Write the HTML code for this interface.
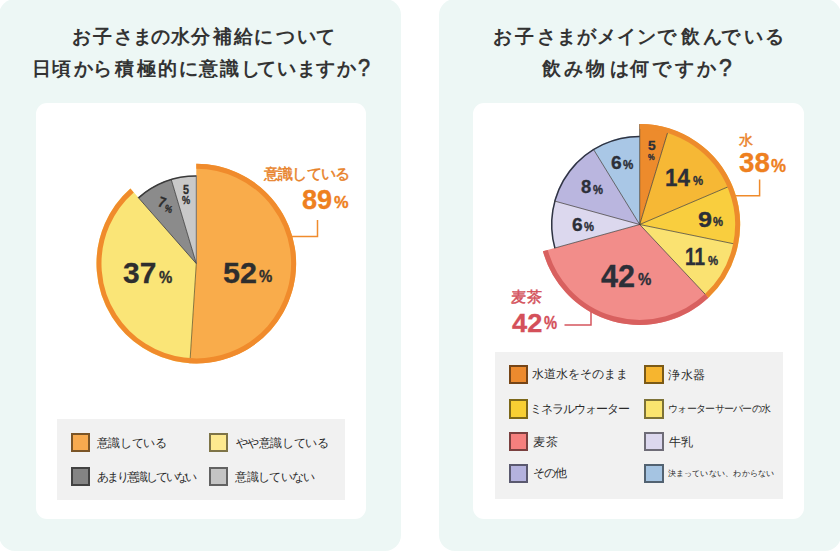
<!DOCTYPE html>
<html lang="ja"><head><meta charset="utf-8"><style>
html,body{margin:0;padding:0;background:#fff;}
body{width:840px;height:552px;position:relative;overflow:hidden;font-family:"Liberation Sans",sans-serif;}
.panel{position:absolute;background:#edf7f5;border-radius:16px;}
.card{position:absolute;background:#fff;border-radius:11px;}
.leg{position:absolute;background:#f1f1f1;}
.t{position:absolute;white-space:nowrap;line-height:1;}
.sw{position:absolute;width:15.3px;height:15.3px;border:2px solid;}
svg{position:absolute;left:0;top:0;}
</style></head><body>
<div class="panel" style="left:-1px;top:-1px;width:402px;height:552px"></div>
<div class="panel" style="left:439px;top:-1px;width:402px;height:552px"></div>
<div class="card" style="left:36px;top:102.7px;width:330px;height:416.8px"></div>
<div class="card" style="left:473.4px;top:102.7px;width:330.6px;height:416.8px"></div>
<div class="leg" style="left:57.1px;top:418.7px;width:287.5px;height:81.3px"></div>
<div class="leg" style="left:494.9px;top:351.8px;width:288px;height:147.7px"></div>
<svg width="840" height="552" viewBox="0 0 840 552">
<path d="M196.30,263.60 L196.30,163.80 A99.80,99.80 0 1 1 189.86,363.19 Z" fill="#f9ac4b"/>
<path d="M196.30,263.60 L189.86,363.19 A99.80,99.80 0 0 1 130.43,188.62 Z" fill="#fae577"/>
<path d="M196.30,263.60 L138.09,197.34 A88.20,88.20 0 0 1 171.10,179.08 Z" fill="#8b8b8b"/>
<path d="M196.30,263.60 L171.10,179.08 A88.20,88.20 0 0 1 196.30,175.40 Z" fill="#c9c9c9"/>
<path d="M138.55,197.86 A87.50,87.50 0 0 1 196.30,176.10" fill="none" stroke="#3a3a3a" stroke-width="1.5"/>
<path d="M196.30,263.60 L138.09,197.34" stroke="#3a3a3a" stroke-width="0.8" fill="none"/>
<path d="M196.30,263.60 L171.10,179.08" stroke="#3a3a3a" stroke-width="0.8" fill="none"/>
<path d="M196.30,263.60 L189.86,363.19" stroke="#6b5a2a" stroke-width="0.8" fill="none"/>
<path d="M196.30,263.60 L196.30,175.40" stroke="#555" stroke-width="0.8" fill="none"/>
<path d="M196.30,166.30 A97.30,97.30 0 1 1 132.08,190.50" fill="none" stroke="#f08b2c" stroke-width="5.0"/>
<path d="M639.70,224.50 L639.70,124.10 A100.40,100.40 0 0 1 668.89,128.44 Z" fill="#ed8b2c"/>
<path d="M639.70,224.50 L668.89,128.44 A100.40,100.40 0 0 1 732.05,185.11 Z" fill="#f6b835"/>
<path d="M639.70,224.50 L732.05,185.11 A100.40,100.40 0 0 1 738.05,244.69 Z" fill="#f9ce3e"/>
<path d="M639.70,224.50 L738.05,244.69 A100.40,100.40 0 0 1 708.43,297.69 Z" fill="#fae271"/>
<path d="M639.70,224.50 L708.43,297.69 A100.40,100.40 0 0 1 542.95,251.33 Z" fill="#f28d8a"/>
<path d="M639.70,224.50 L554.23,248.20 A88.70,88.70 0 0 1 554.18,200.95 Z" fill="#dcd8ee"/>
<path d="M639.70,224.50 L554.18,200.95 A88.70,88.70 0 0 1 593.22,148.95 Z" fill="#bab6df"/>
<path d="M639.70,224.50 L593.22,148.95 A88.70,88.70 0 0 1 639.70,135.80 Z" fill="#a9c7e6"/>
<path d="M554.90,248.02 A88.00,88.00 0 0 1 639.70,136.50" fill="none" stroke="#2f3442" stroke-width="1.5"/>
<path d="M639.70,224.50 L668.01,131.31" stroke="#3a3530" stroke-width="0.7" fill="none"/>
<path d="M639.70,224.50 L729.29,186.29" stroke="#3a3530" stroke-width="0.7" fill="none"/>
<path d="M639.70,224.50 L735.11,244.08" stroke="#3a3530" stroke-width="0.7" fill="none"/>
<path d="M639.70,224.50 L706.37,295.50" stroke="#3a3530" stroke-width="0.7" fill="none"/>
<path d="M639.70,224.50 L554.23,248.20" stroke="#3a3530" stroke-width="0.7" fill="none"/>
<path d="M639.70,224.50 L554.18,200.95" stroke="#3a3530" stroke-width="0.7" fill="none"/>
<path d="M639.70,224.50 L593.22,148.95" stroke="#3a3530" stroke-width="0.7" fill="none"/>
<path d="M639.70,224.50 L639.70,124.10" stroke="#3a3530" stroke-width="0.7" fill="none"/>
<path d="M639.70,126.60 A97.90,97.90 0 0 1 706.72,295.87" fill="none" stroke="#ed8b2c" stroke-width="5.0"/>
<path d="M706.72,295.87 A97.90,97.90 0 0 1 545.36,250.66" fill="none" stroke="#d8605f" stroke-width="5.0"/>
<path d="M291,236.5 H317.5 V220" fill="none" stroke="#f08b2c" stroke-width="1.5"/>
<path d="M735,195.7 H759.6 V179.4" fill="none" stroke="#ef8a2a" stroke-width="1.5"/>
<path d="M564.5,325 H591 V312" fill="none" stroke="#d5555d" stroke-width="1.5"/>
</svg>
<div class="t" style="left:71.70px;top:27.30px;font-size:19px;color:#333;font-weight:bold;">お</div>
<div class="t" style="left:93.00px;top:27.30px;font-size:19px;color:#333;font-weight:bold;">子</div>
<div class="t" style="left:113.90px;top:27.30px;font-size:19px;color:#333;font-weight:bold;">さ</div>
<div class="t" style="left:133.30px;top:27.30px;font-size:19px;color:#333;font-weight:bold;">ま</div>
<div class="t" style="left:150.70px;top:27.30px;font-size:19px;color:#333;font-weight:bold;">の</div>
<div class="t" style="left:171.20px;top:27.30px;font-size:19px;color:#333;font-weight:bold;">水</div>
<div class="t" style="left:191.40px;top:27.30px;font-size:19px;color:#333;font-weight:bold;">分</div>
<div class="t" style="left:212.90px;top:27.30px;font-size:19px;color:#333;font-weight:bold;">補</div>
<div class="t" style="left:234.10px;top:27.30px;font-size:19px;color:#333;font-weight:bold;">給</div>
<div class="t" style="left:254.30px;top:27.30px;font-size:19px;color:#333;font-weight:bold;">に</div>
<div class="t" style="left:275.50px;top:27.30px;font-size:19px;color:#333;font-weight:bold;">つ</div>
<div class="t" style="left:296.50px;top:27.30px;font-size:19px;color:#333;font-weight:bold;">い</div>
<div class="t" style="left:315.50px;top:27.30px;font-size:19px;color:#333;font-weight:bold;">て</div>
<div class="t" style="left:31.90px;top:58.80px;font-size:19px;color:#333;font-weight:bold;">日</div>
<div class="t" style="left:52.00px;top:58.80px;font-size:19px;color:#333;font-weight:bold;">頃</div>
<div class="t" style="left:74.40px;top:58.80px;font-size:19px;color:#333;font-weight:bold;">か</div>
<div class="t" style="left:93.40px;top:58.80px;font-size:19px;color:#333;font-weight:bold;">ら</div>
<div class="t" style="left:115.00px;top:58.80px;font-size:19px;color:#333;font-weight:bold;">積</div>
<div class="t" style="left:136.50px;top:58.80px;font-size:19px;color:#333;font-weight:bold;">極</div>
<div class="t" style="left:157.70px;top:58.80px;font-size:19px;color:#333;font-weight:bold;">的</div>
<div class="t" style="left:179.30px;top:58.80px;font-size:19px;color:#333;font-weight:bold;">に</div>
<div class="t" style="left:198.60px;top:58.80px;font-size:19px;color:#333;font-weight:bold;">意</div>
<div class="t" style="left:220.00px;top:58.80px;font-size:19px;color:#333;font-weight:bold;">識</div>
<div class="t" style="left:240.80px;top:58.80px;font-size:19px;color:#333;font-weight:bold;">し</div>
<div class="t" style="left:257.20px;top:58.80px;font-size:19px;color:#333;font-weight:bold;">て</div>
<div class="t" style="left:276.70px;top:58.80px;font-size:19px;color:#333;font-weight:bold;">い</div>
<div class="t" style="left:296.70px;top:58.80px;font-size:19px;color:#333;font-weight:bold;">ま</div>
<div class="t" style="left:316.20px;top:58.80px;font-size:19px;color:#333;font-weight:bold;">す</div>
<div class="t" style="left:336.70px;top:58.80px;font-size:19px;color:#333;font-weight:bold;">か</div>
<div class="t" style="left:492.80px;top:26.80px;font-size:19px;color:#333;font-weight:bold;">お</div>
<div class="t" style="left:515.00px;top:26.80px;font-size:19px;color:#333;font-weight:bold;">子</div>
<div class="t" style="left:536.60px;top:26.80px;font-size:19px;color:#333;font-weight:bold;">さ</div>
<div class="t" style="left:556.70px;top:26.80px;font-size:19px;color:#333;font-weight:bold;">ま</div>
<div class="t" style="left:577.10px;top:26.80px;font-size:19px;color:#333;font-weight:bold;">が</div>
<div class="t" style="left:597.20px;top:26.80px;font-size:19px;color:#333;font-weight:bold;">メ</div>
<div class="t" style="left:617.00px;top:26.80px;font-size:19px;color:#333;font-weight:bold;">イ</div>
<div class="t" style="left:636.80px;top:26.80px;font-size:19px;color:#333;font-weight:bold;">ン</div>
<div class="t" style="left:657.10px;top:26.80px;font-size:19px;color:#333;font-weight:bold;">で</div>
<div class="t" style="left:681.00px;top:26.80px;font-size:19px;color:#333;font-weight:bold;">飲</div>
<div class="t" style="left:703.10px;top:26.80px;font-size:19px;color:#333;font-weight:bold;">ん</div>
<div class="t" style="left:721.40px;top:26.80px;font-size:19px;color:#333;font-weight:bold;">で</div>
<div class="t" style="left:744.10px;top:26.80px;font-size:19px;color:#333;font-weight:bold;">い</div>
<div class="t" style="left:764.80px;top:26.80px;font-size:19px;color:#333;font-weight:bold;">る</div>
<div class="t" style="left:542.00px;top:58.80px;font-size:19px;color:#333;font-weight:bold;">飲</div>
<div class="t" style="left:563.70px;top:58.80px;font-size:19px;color:#333;font-weight:bold;">み</div>
<div class="t" style="left:586.30px;top:58.80px;font-size:19px;color:#333;font-weight:bold;">物</div>
<div class="t" style="left:609.50px;top:58.80px;font-size:19px;color:#333;font-weight:bold;">は</div>
<div class="t" style="left:630.00px;top:58.80px;font-size:19px;color:#333;font-weight:bold;">何</div>
<div class="t" style="left:652.40px;top:58.80px;font-size:19px;color:#333;font-weight:bold;">で</div>
<div class="t" style="left:674.80px;top:58.80px;font-size:19px;color:#333;font-weight:bold;">す</div>
<div class="t" style="left:696.90px;top:58.80px;font-size:19px;color:#333;font-weight:bold;">か</div>
<div class="t" style="left:357.73px;top:56.20px;font-size:24.00px;transform:scaleX(0.903);transform-origin:0 0;color:#333;font-weight:normal;-webkit-text-stroke:0.6px #333;">?</div>
<div class="t" style="left:718.58px;top:56.20px;font-size:24.00px;transform:scaleX(0.955);transform-origin:0 0;color:#333;font-weight:normal;-webkit-text-stroke:0.6px #333;">?</div>
<div class="t" style="left:222.59px;top:257.72px;font-size:29.86px;transform:scaleX(1.021);transform-origin:0 0;color:#2e2e2e;font-weight:bold;-webkit-text-stroke:0.3px #2e2e2e;">52</div>
<div class="t" style="left:259.05px;top:269.13px;font-size:16.71px;transform:scaleX(0.894);transform-origin:0 0;color:#2e2e2e;font-weight:bold;-webkit-text-stroke:0.35px #2e2e2e;">%</div>
<div class="t" style="left:122.50px;top:257.92px;font-size:29.86px;transform:scaleX(1.002);transform-origin:0 0;color:#2e2e2e;font-weight:bold;-webkit-text-stroke:0.3px #2e2e2e;">37</div>
<div class="t" style="left:159.05px;top:269.42px;font-size:16.14px;transform:scaleX(0.925);transform-origin:0 0;color:#2e2e2e;font-weight:bold;-webkit-text-stroke:0.35px #2e2e2e;">%</div>
<div class="t" style="left:157.79px;top:195.25px;font-size:14.71px;transform:rotate(20.0deg) scaleX(0.868);transform-origin:3.51px 7.35px;color:#2e2e2e;font-weight:bold;-webkit-text-stroke:0.3px #2e2e2e;">7</div>
<div class="t" style="left:164.04px;top:203.60px;font-size:10.00px;transform:rotate(20.0deg) scaleX(0.867);transform-origin:3.86px 5.10px;color:#2e2e2e;font-weight:bold;-webkit-text-stroke:0.35px #2e2e2e;">%</div>
<div class="t" style="left:183.28px;top:183.97px;font-size:12.71px;transform:scaleX(0.849);transform-origin:0 0;color:#2e2e2e;font-weight:bold;-webkit-text-stroke:0.3px #2e2e2e;">5</div>
<div class="t" style="left:182.03px;top:195.73px;font-size:10.43px;transform:scaleX(0.878);transform-origin:0 0;color:#2e2e2e;font-weight:bold;-webkit-text-stroke:0.35px #2e2e2e;">%</div>
<div class="t" style="left:264.00px;top:165.90px;font-size:15.00px;letter-spacing:-0.76px;color:#e8832b;font-weight:normal;-webkit-text-stroke:0.5px #e8832b;">意識している</div>
<div class="t" style="left:301.69px;top:186.26px;font-size:27.61px;transform:scaleX(0.982);transform-origin:0 0;color:#ee8020;font-weight:bold;-webkit-text-stroke:0.3px #ee8020;">89</div>
<div class="t" style="left:334.11px;top:195.23px;font-size:16.71px;transform:scaleX(0.980);transform-origin:0 0;color:#ee8020;font-weight:bold;-webkit-text-stroke:0.35px #ee8020;">%</div>
<div class="t" style="left:739.40px;top:132.80px;font-size:14.00px;letter-spacing:0.00px;color:#ea8328;font-weight:normal;-webkit-text-stroke:0.5px #ea8328;">水</div>
<div class="t" style="left:738.95px;top:149.28px;font-size:27.46px;transform:scaleX(1.010);transform-origin:0 0;color:#ee8020;font-weight:bold;-webkit-text-stroke:0.3px #ee8020;">38</div>
<div class="t" style="left:771.49px;top:157.03px;font-size:18.57px;transform:scaleX(0.908);transform-origin:0 0;color:#ee8020;font-weight:bold;-webkit-text-stroke:0.35px #ee8020;">%</div>
<div class="t" style="left:511.20px;top:289.40px;font-size:15.00px;letter-spacing:1.20px;color:#d4535c;font-weight:normal;-webkit-text-stroke:0.5px #d4535c;">麦茶</div>
<div class="t" style="left:511.66px;top:309.58px;font-size:26.14px;transform:scaleX(1.042);transform-origin:0 0;color:#d4505a;font-weight:bold;-webkit-text-stroke:0.3px #d4505a;">42</div>
<div class="t" style="left:544.36px;top:315.14px;font-size:17.86px;transform:scaleX(0.823);transform-origin:0 0;color:#d4505a;font-weight:bold;-webkit-text-stroke:0.35px #d4505a;">%</div>
<div class="t" style="left:648.09px;top:140.47px;font-size:12.71px;transform:scaleX(1.085);transform-origin:0 0;color:#2c2f38;font-weight:bold;-webkit-text-stroke:0.3px #2c2f38;">5</div>
<div class="t" style="left:647.58px;top:153.03px;font-size:8.57px;transform:scaleX(0.871);transform-origin:0 0;color:#2c2f38;font-weight:bold;-webkit-text-stroke:0.35px #2c2f38;">%</div>
<div class="t" style="left:665.06px;top:165.60px;font-size:23.77px;transform:scaleX(0.938);transform-origin:0 0;color:#2c2f38;font-weight:bold;-webkit-text-stroke:0.3px #2c2f38;">14</div>
<div class="t" style="left:693.46px;top:174.13px;font-size:13.57px;transform:scaleX(0.834);transform-origin:0 0;color:#2c2f38;font-weight:bold;-webkit-text-stroke:0.35px #2c2f38;">%</div>
<div class="t" style="left:697.99px;top:208.77px;font-size:21.55px;transform:scaleX(1.170);transform-origin:0 0;color:#2c2f38;font-weight:bold;-webkit-text-stroke:0.3px #2c2f38;">9</div>
<div class="t" style="left:712.86px;top:217.10px;font-size:11.86px;transform:scaleX(0.945);transform-origin:0 0;color:#2c2f38;font-weight:bold;-webkit-text-stroke:0.35px #2c2f38;">%</div>
<div class="t" style="left:684.56px;top:246.41px;font-size:23.04px;transform:scaleX(0.823);transform-origin:0 0;color:#2c2f38;font-weight:bold;-webkit-text-stroke:0.3px #2c2f38;">11</div>
<div class="t" style="left:708.26px;top:255.80px;font-size:11.86px;transform:scaleX(0.955);transform-origin:0 0;color:#2c2f38;font-weight:bold;-webkit-text-stroke:0.35px #2c2f38;">%</div>
<div class="t" style="left:601.39px;top:260.84px;font-size:30.43px;transform:scaleX(1.005);transform-origin:0 0;color:#2c2f38;font-weight:bold;-webkit-text-stroke:0.3px #2c2f38;">42</div>
<div class="t" style="left:637.85px;top:272.05px;font-size:16.57px;transform:scaleX(0.902);transform-origin:0 0;color:#2c2f38;font-weight:bold;-webkit-text-stroke:0.35px #2c2f38;">%</div>
<div class="t" style="left:611.23px;top:155.04px;font-size:17.75px;transform:scaleX(1.080);transform-origin:0 0;color:#2c2f38;font-weight:bold;-webkit-text-stroke:0.3px #2c2f38;">6</div>
<div class="t" style="left:622.85px;top:160.10px;font-size:11.86px;transform:scaleX(0.975);transform-origin:0 0;color:#2c2f38;font-weight:bold;-webkit-text-stroke:0.35px #2c2f38;">%</div>
<div class="t" style="left:580.65px;top:177.97px;font-size:18.87px;transform:scaleX(0.975);transform-origin:0 0;color:#2c2f38;font-weight:bold;-webkit-text-stroke:0.3px #2c2f38;">8</div>
<div class="t" style="left:593.16px;top:183.64px;font-size:12.86px;transform:scaleX(0.871);transform-origin:0 0;color:#2c2f38;font-weight:bold;-webkit-text-stroke:0.35px #2c2f38;">%</div>
<div class="t" style="left:571.63px;top:215.83px;font-size:18.45px;transform:scaleX(1.039);transform-origin:0 0;color:#2c2f38;font-weight:bold;-webkit-text-stroke:0.3px #2c2f38;">6</div>
<div class="t" style="left:584.36px;top:221.26px;font-size:12.14px;transform:scaleX(0.923);transform-origin:0 0;color:#2c2f38;font-weight:bold;-webkit-text-stroke:0.35px #2c2f38;">%</div>
<div class="t" style="left:96.80px;top:437.50px;font-size:11.50px;letter-spacing:-0.36px;color:#2a2a2a;font-weight:normal;">意識している</div>
<div class="t" style="left:235.60px;top:437.50px;font-size:11.50px;letter-spacing:-0.41px;color:#2a2a2a;font-weight:normal;">やや意識している</div>
<div class="t" style="left:97.20px;top:471.50px;font-size:11.50px;letter-spacing:-2.20px;color:#2a2a2a;font-weight:normal;">あまり意識していない</div>
<div class="t" style="left:235.20px;top:471.50px;font-size:11.50px;letter-spacing:-0.65px;color:#2a2a2a;font-weight:normal;">意識していない</div>
<div class="t" style="left:532.40px;top:369.20px;font-size:11.50px;letter-spacing:-0.03px;color:#2a2a2a;font-weight:normal;">水道水をそのまま</div>
<div class="t" style="left:668.00px;top:370.20px;font-size:11.50px;letter-spacing:0.65px;color:#2a2a2a;font-weight:normal;">浄水器</div>
<div class="t" style="left:530.40px;top:403.80px;font-size:11.50px;letter-spacing:-1.05px;color:#2a2a2a;font-weight:normal;">ミネラルウォーター</div>
<div class="t" style="left:668.00px;top:403.80px;font-size:9.50px;letter-spacing:-0.70px;color:#2a2a2a;font-weight:normal;">ウォーターサーバーの水</div>
<div class="t" style="left:532.80px;top:437.00px;font-size:11.50px;letter-spacing:1.50px;color:#2a2a2a;font-weight:normal;">麦茶</div>
<div class="t" style="left:669.00px;top:436.50px;font-size:11.50px;letter-spacing:-0.50px;color:#2a2a2a;font-weight:normal;">牛乳</div>
<div class="t" style="left:532.80px;top:468.20px;font-size:11.50px;letter-spacing:-0.90px;color:#2a2a2a;font-weight:normal;">その他</div>
<div class="t" style="left:667.60px;top:469.20px;font-size:8.30px;letter-spacing:0.22px;color:#2a2a2a;font-weight:normal;">決まっていない、わからない</div>
<div class="sw" style="left:71.2px;top:433px;background:#f7aa4f;border-color:#7b5527"></div>
<div class="sw" style="left:209.2px;top:433px;background:#fde98f;border-color:#7e7447"></div>
<div class="sw" style="left:71.2px;top:467px;background:#848484;border-color:#424242"></div>
<div class="sw" style="left:209.2px;top:467px;background:#c4c4c4;border-color:#626262"></div>
<div class="sw" style="left:509px;top:365.2px;background:#ec8a2e;border-color:#764517"></div>
<div class="sw" style="left:644.3px;top:365.2px;background:#f6b52f;border-color:#7b5a17"></div>
<div class="sw" style="left:509px;top:399.3px;background:#f8cf33;border-color:#7c6719"></div>
<div class="sw" style="left:644.3px;top:399.3px;background:#fae46f;border-color:#7d7237"></div>
<div class="sw" style="left:509px;top:432px;background:#f5807e;border-color:#7a403f"></div>
<div class="sw" style="left:644.3px;top:432px;background:#dcd8ee;border-color:#6e6c77"></div>
<div class="sw" style="left:509px;top:464.2px;background:#b4b2de;border-color:#5a596f"></div>
<div class="sw" style="left:644.3px;top:464.2px;background:#a5c4e2;border-color:#526271"></div>
</body></html>
